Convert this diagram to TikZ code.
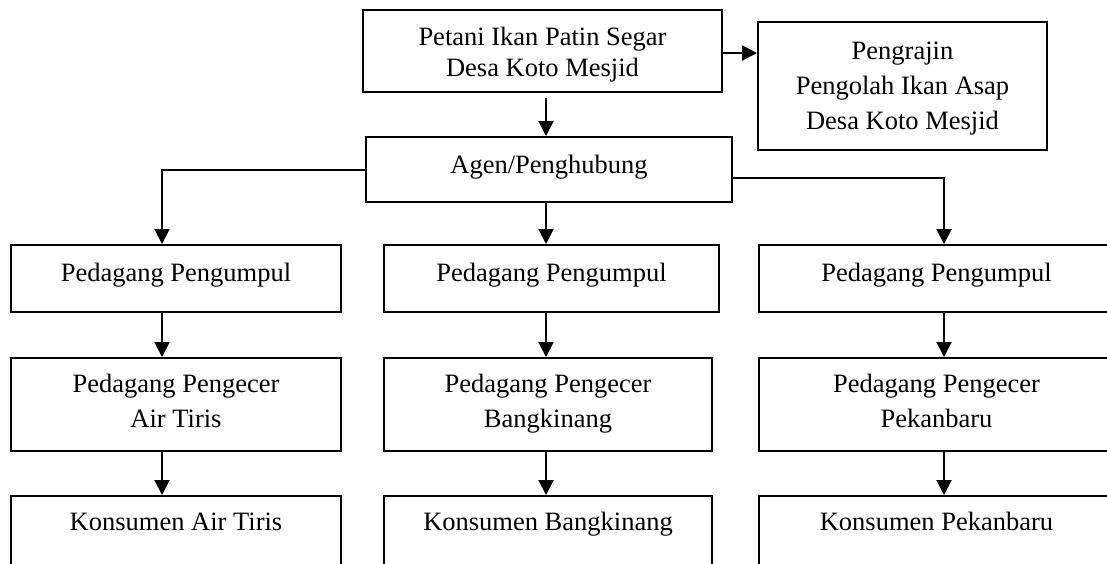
\documentclass[tikz,border=0pt]{standalone}
\usepackage{fontspec}
\setmainfont{Liberation Serif}
\usetikzlibrary{arrows.meta}
\begin{document}
\begin{tikzpicture}[x=0.5pt,y=-0.5pt,
  box/.style={draw,line width=1pt,inner sep=0pt,rectangle},
  txt/.style={align=center,inner sep=0pt,font=\fontsize{13.25pt}{17.5pt}\selectfont},
  arr/.style={line width=1pt,-{Triangle[width=7.5pt,length=7.5pt]}}]
\useasboundingbox (0,0) rectangle (1107,563);
% boxes
\node[box,minimum width=179.5pt,minimum height=41pt] (bTop) at (542.5,51) {};
\node[box,minimum width=144.5pt,minimum height=64pt] (bPeng) at (902.5,86) {};
\node[box,minimum width=183pt,minimum height=32.5pt] (bAgen) at (549,169.5) {};
\node[box,minimum width=165pt,minimum height=33.5pt] (bL2) at (176,278.5) {};
\node[box,minimum width=167.5pt,minimum height=33.5pt] (bM2) at (551.5,278.5) {};
\node[box,minimum width=177.5pt,minimum height=33.5pt] (bR2) at (936.5,278.5) {};
\node[box,minimum width=165pt,minimum height=46.5pt] (bL3) at (176,404.5) {};
\node[box,minimum width=164pt,minimum height=46.5pt] (bM3) at (548,404.5) {};
\node[box,minimum width=177.5pt,minimum height=46.5pt] (bR3) at (936.5,404.5) {};
\node[box,minimum width=165pt,minimum height=52pt] (bL4) at (176,548) {};
\node[box,minimum width=164pt,minimum height=52pt] (bM4) at (548,548) {};
\node[box,minimum width=177.5pt,minimum height=52pt] (bR4) at (936.5,548) {};
% texts
\node[txt,font=\fontsize{13.25pt}{15.5pt}\selectfont] (tTop) at (542.5,54.4) {Petani Ikan Patin Segar\\Desa Koto Mesjid};
\node[txt] (tPeng) at (902.5,88.2) {Pengrajin\\Pengolah Ikan Asap\\Desa Koto Mesjid};
\node[txt,anchor=base] (tAgen) at (549,173) {Agen/Penghubung};
\node[txt,anchor=base] (tL2) at (176,281) {Pedagang Pengumpul};
\node[txt,anchor=base] (tM2) at (551.5,281) {Pedagang Pengumpul};
\node[txt,anchor=base] (tR2) at (936.5,281) {Pedagang Pengumpul};
\node[txt] (tL3) at (176,401) {Pedagang Pengecer\\Air Tiris};
\node[txt] (tM3) at (548,403.9) {Pedagang Pengecer\\Bangkinang};
\node[txt] (tR3) at (936.5,401) {Pedagang Pengecer\\Pekanbaru};
\node[txt,anchor=base] (tL4) at (176,530.5) {Konsumen Air Tiris};
\node[txt,anchor=base] (tM4) at (548,530.5) {Konsumen Bangkinang};
\node[txt,anchor=base] (tR4) at (936.5,530.5) {Konsumen Pekanbaru};
% column positions
\coordinate (xL) at (162,0);
\coordinate (xM) at (546,0);
\coordinate (xR) at (944,0);
% connectors
\draw[arr] ([yshift=-1pt]bTop.east) -- ([yshift=-1pt]bTop.east -| bPeng.west);
\draw[arr] ([yshift=-2.5pt]bTop.south -| xM) -- (bAgen.north -| xM);
\draw[arr] ([yshift=-0.25pt]bAgen.west) -- ([yshift=-0.25pt]bAgen.west -| xL) -- (bL2.north -| xL);
\draw[arr] ([yshift=-4.25pt]bAgen.east) -| (bR2.north -| xR);
\draw[arr] (bAgen.south -| xM) -- (bM2.north -| xM);
\draw[arr] (bL2.south -| xL) -- (bL3.north -| xL);
\draw[arr] (bM2.south -| xM) -- (bM3.north -| xM);
\draw[arr] (bR2.south -| xR) -- (bR3.north -| xR);
\draw[arr] (bL3.south -| xL) -- (bL4.north -| xL);
\draw[arr] (bM3.south -| xM) -- (bM4.north -| xM);
\draw[arr] (bR3.south -| xR) -- (bR4.north -| xR);
\end{tikzpicture}
\end{document}
